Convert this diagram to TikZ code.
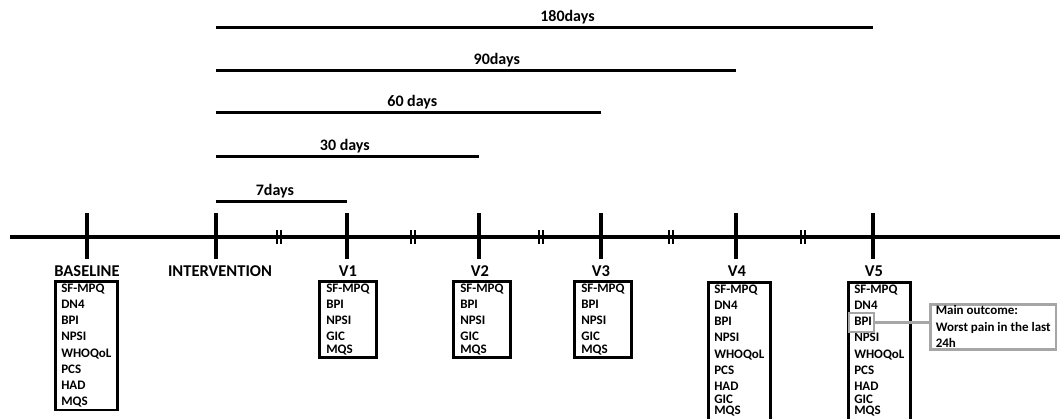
\documentclass[tikz,border=0pt]{standalone}
\usepackage{fontspec}
\setmainfont{Carlito}
\usepackage{tikz}
\usetikzlibrary{positioning}

\begin{document}
\begin{tikzpicture}[
  x=1pt, y=-1pt,
  timeline/.style={line width=4pt},
  visittick/.style={line width=4pt},
  span/.style={line width=3pt},
  brk/.style={line width=2pt},
  daylbl/.style={anchor=base, yshift=6pt, inner sep=0pt, font=\bfseries\fontsize{16}{18}\selectfont},
  visit/.style={anchor=base, inner sep=0pt, font=\bfseries\fontsize{16.5}{19}\selectfont},
  items/.style={draw=black, line width=2.5pt, anchor=north west, align=left, inner xsep=6pt, inner ysep=2.5pt, font=\bfseries\fontsize{13}{16.2}\selectfont},
  outline/.style={draw=black!35, line width=2.5pt}
]
\useasboundingbox (0,0) rectangle (1060,418);

% Timeline
\coordinate (tstart) at (10,237);
\coordinate (tend) at (1060,237);
\draw[timeline] (tstart) -- (tend);
\foreach \n/\x in {base/87, int/216, v1/347, v2/479, v3/601, v4/736, v5/873} {
  \coordinate (\n) at (\x,237);
  \draw[visittick] (\x,213) -- (\x,259);
}
\foreach \x in {279, 413, 541, 671, 803} {
  \draw[brk] (\x-2,230) -- (\x-2,244);
  \draw[brk] (\x+2,230) -- (\x+2,244);
}

% Follow-up spans
\draw[span] (int |- 0,201) -- node[daylbl, pos=0.45] {7days} (v1 |- 0,201);
\draw[span] (int |- 0,156) -- node[daylbl, pos=0.49] {30 days} (v2 |- 0,156);
\draw[span] (int |- 0,112) -- node[daylbl, pos=0.51] {60 days} (v3 |- 0,112);
\draw[span] (int |- 0,70) -- node[daylbl, pos=0.54] {90days} (v4 |- 0,70);
\draw[span] (int |- 0,27) -- node[daylbl, pos=0.535] {180days} (v5 |- 0,27);

% Visit labels
\node (lbase) [visit] at (87,276) {BASELINE};
\node (lint) [visit] at (220,276) {INTERVENTION};
\node (lv1) [visit] at (348,276) {V1};
\node (lv2) [visit] at (480,276) {V2};
\node (lv3) [visit] at (601,276) {V3};
\node (lv4) [visit] at (737,276) {V4};
\node (lv5) [visit] at (874,276) {V5};

% Questionnaires
\node (qbase) [items] at (54,280) {SF-MPQ\\DN4\\BPI\\NPSI\\WHOQoL\\PCS\\HAD\\MQS};
\node (qv1) [items, inner xsep=7pt] at (318,280) {SF-MPQ\\BPI\\NPSI\\GIC\\[-3.5pt]MQS};
\node (qv2) [items, inner xsep=7pt] at (452,280) {SF-MPQ\\BPI\\NPSI\\GIC\\[-3.5pt]MQS};
\node (qv3) [items, inner xsep=7pt] at (573,280) {SF-MPQ\\BPI\\NPSI\\GIC\\[-3.5pt]MQS};
\node (qv4) [items] at (707,281) {SF-MPQ\\DN4\\BPI\\NPSI\\WHOQoL\\PCS\\HAD\\[-3.5pt]GIC\\[-4.5pt]MQS\rule[-10pt]{0pt}{1pt}};
\node (qv5) [items] at (847,281) {SF-MPQ\\DN4\\BPI\\NPSI\\WHOQoL\\PCS\\HAD\\[-3.5pt]GIC\\[-4.5pt]MQS\rule[-10pt]{0pt}{1pt}};

% Main outcome
\node (bpimark) [outline, minimum width=25pt, minimum height=19pt, inner sep=0pt] at (861.5,322.5) {};
\node (outcome) [outline, anchor=north west, align=left, inner xsep=5.5pt, inner ysep=1.5pt,
  font=\bfseries\fontsize{13}{16.5}\selectfont] at (929,303) {Main outcome:\\Worst pain in the last\\24h};
\draw[outline] (bpimark.east) -- (bpimark.east -| outcome.west);
\end{tikzpicture}
\end{document}
